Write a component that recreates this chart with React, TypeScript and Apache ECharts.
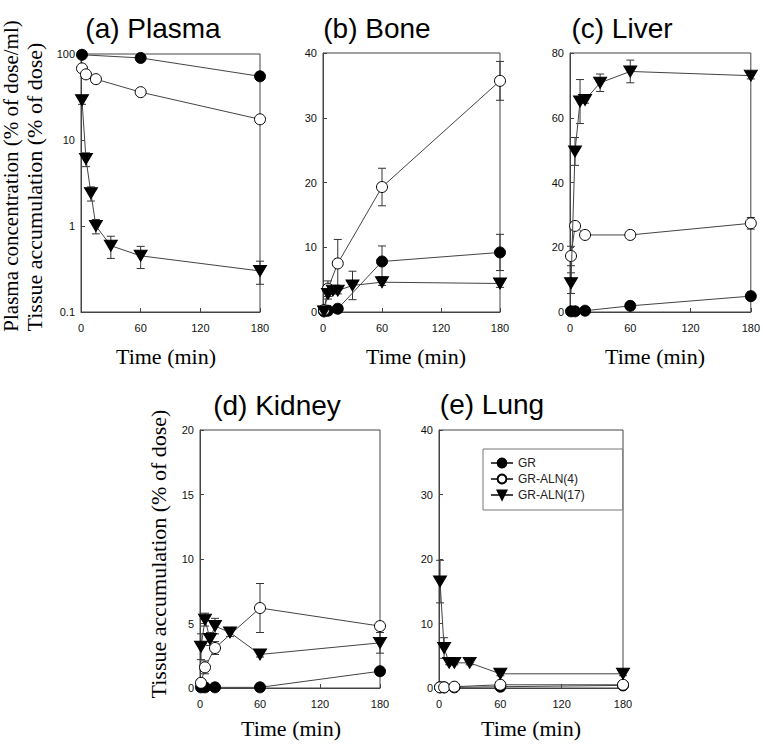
import React, { useEffect, useRef } from "react";
import * as echarts from "echarts";

// Sampling times (min)
const tGR = [1, 5, 15, 60, 180];
const tGRplasma = [1, 60, 180];
const tALN4 = [1, 5, 15, 60, 180];
const tALN17 = [1, 5, 10, 15, 30, 60, 180];

// (a) Plasma concentration (% of dose/ml)
const plasmaGR = [98, 90, 55];
const plasmaGRErr = [0, 0, 0];
const plasmaALN4 = [68, 58, 51, 36, 17.4];
const plasmaALN4Err = [0, 0, 0, 0, 0];
const plasmaALN17 = [29, 6.0, 2.4, 1.0, 0.59, 0.45, 0.3];
const plasmaALN17Err = [3, 1.1, 0.45, 0.19, 0.17, 0.13, 0.09];

// (b) Bone (% of dose)
const boneGR = [0.1, 0.2, 0.5, 7.8, 9.2];
const boneGRErr = [0.3, 0.3, 0.3, 2.4, 2.8];
const boneALN4 = [0.3, 3.6, 7.5, 19.3, 35.7];
const boneALN4Err = [0.5, 1.2, 3.7, 2.9, 3.0];
const boneALN17 = [0.1, 2.8, 3.3, 3.3, 4.1, 4.6, 4.4];
const boneALN17Err = [0.3, 0.8, 0.5, 0.5, 2.2, 0.5, 0.6];

// (c) Liver (% of dose)
const liverGR = [0.2, 0.2, 0.4, 1.9, 4.9];
const liverGRErr = [0, 0, 0, 0, 0];
const liverALN4 = [17.3, 26.6, 23.8, 23.8, 27.4];
const liverALN4Err = [3, 1, 1, 1, 1.8];
const liverALN17 = [8.9, 49.6, 65, 65.5, 70.8, 74.3, 73];
const liverALN17Err = [3.2, 4.3, 6.8, 1, 2.7, 3.5, 1];

// (d) Kidney (% of dose)
const kidneyGR = [0.05, 0.05, 0.05, 0.05, 1.3];
const kidneyGRErr = [0, 0, 0, 0, 0];
const kidneyALN4 = [0.4, 1.6, 3.1, 6.2, 4.8];
const kidneyALN4Err = [0.2, 0.5, 0.5, 1.9, 0.3];
const kidneyALN17 = [3.2, 5.3, 3.8, 4.8, 4.3, 2.6, 3.5];
const kidneyALN17Err = [1.0, 0.5, 0.5, 0.6, 0.3, 0.2, 0.8];

// (e) Lung (% of dose)
const lungGR = [0.1, 0.1, 0.1, 0.2, 0.4];
const lungGRErr = [0, 0, 0, 0, 0];
const lungALN4 = [0.1, 0.1, 0.2, 0.5, 0.5];
const lungALN4Err = [0, 0, 0, 0, 0];
const lungALN17 = [16.5, 6.2, 3.9, 3.9, 3.9, 2.2, 2.2];
const lungALN17Err = [3.3, 1.6, 0.3, 0.3, 0.3, 0.3, 0.3];

const seriesNames = ["GR", "GR-ALN(4)", "GR-ALN(17)"];
const panelTitles = ["(a) Plasma", "(b) Bone", "(c) Liver", "(d) Kidney", "(e) Lung"];
const xTicks = [0, 60, 120, 180];

const SANS = "'Liberation Sans', Arial, sans-serif";
const SERIF = "'Liberation Serif', 'Times New Roman', serif";

export default function App() {
  const ref = useRef<HTMLDivElement>(null);

  useEffect(() => {
    if (!ref.current) return;
    const chart = echarts.init(ref.current, null, { renderer: "svg" });

    const panels = [
      { grid: { left: 81, top: 54, width: 179, height: 258 }, log: true, min: 0.1, max: 100, interval: 0,
        data: [[tGRplasma, plasmaGR, plasmaGRErr], [tALN4, plasmaALN4, plasmaALN4Err], [tALN17, plasmaALN17, plasmaALN17Err]],
        title: [153, 28], xname: [166, 356] },
      { grid: { left: 323, top: 53, width: 177, height: 259 }, log: false, min: 0, max: 40, interval: 10,
        data: [[tGR, boneGR, boneGRErr], [tALN4, boneALN4, boneALN4Err], [tALN17, boneALN17, boneALN17Err]],
        title: [377, 28], xname: [416, 356] },
      { grid: { left: 570, top: 53, width: 183, height: 259 }, log: false, min: 0, max: 80, interval: 20,
        data: [[tGR, liverGR, liverGRErr], [tALN4, liverALN4, liverALN4Err], [tALN17, liverALN17, liverALN17Err]],
        title: [622, 28], xname: [655, 356] },
      { grid: { left: 200, top: 430, width: 180, height: 258 }, log: false, min: 0, max: 20, interval: 5,
        data: [[tGR, kidneyGR, kidneyGRErr], [tALN4, kidneyALN4, kidneyALN4Err], [tALN17, kidneyALN17, kidneyALN17Err]],
        title: [277, 405], xname: [291, 728] },
      { grid: { left: 439, top: 430, width: 184, height: 258 }, log: false, min: 0, max: 40, interval: 10,
        data: [[tGR, lungGR, lungGRErr], [tALN4, lungALN4, lungALN4Err], [tALN17, lungALN17, lungALN17Err]],
        title: [492, 404], xname: [531, 728] },
    ];

    const styles = [
      { symbol: "circle", symbolSize: 11, rotate: 0, color: "#000", border: "#000" },
      { symbol: "circle", symbolSize: 11, rotate: 0, color: "#fff", border: "#000" },
      { symbol: "triangle", symbolSize: [13, 11], rotate: 180, color: "#000", border: "#000" },
    ];

    const axisColor = "#444";
    const labelColor = "#111";
    const grids: any[] = [];
    const xAxes: any[] = [];
    const yAxes: any[] = [];
    const series: any[] = [];
    const graphics: any[] = [];

    panels.forEach((p, i) => {
      grids.push({ ...p.grid, show: true, borderColor: axisColor, borderWidth: 1, backgroundColor: "transparent" });
      xAxes.push({
        type: "value", gridIndex: i, min: 0, max: 180, interval: 60,
        axisLine: { show: true, lineStyle: { color: axisColor, width: 1 } },
        axisTick: { show: true, inside: true, length: 4, lineStyle: { color: axisColor } },
        axisLabel: { fontSize: 11, fontFamily: SANS, color: labelColor, margin: 10,
          formatter: (v: number) => (xTicks.includes(v) ? String(v) : "") },
        splitLine: { show: false },
      });
      if (p.log) {
        yAxes.push({
          type: "log", logBase: 10, gridIndex: i, min: p.min, max: p.max,
          axisLine: { show: true, lineStyle: { color: axisColor, width: 1 } },
          axisTick: { show: true, inside: true, length: 4, lineStyle: { color: axisColor } },
          minorTick: { show: false },
          axisLabel: { fontSize: 11, fontFamily: SANS, color: labelColor, margin: 6,
            formatter: (v: number) => (v < 1 ? String(Number(v.toFixed(1))) : String(Math.round(v))) },
          splitLine: { show: false },
        });
      } else {
        yAxes.push({
          type: "value", gridIndex: i, min: p.min, max: p.max, interval: p.interval,
          axisLine: { show: true, lineStyle: { color: axisColor, width: 1 } },
          axisTick: { show: true, inside: true, length: 4, lineStyle: { color: axisColor } },
          axisLabel: { fontSize: 11, fontFamily: SANS, color: labelColor, margin: 6 },
          splitLine: { show: false },
        });
      }

      p.data.forEach((d, k) => {
        const [ts, vs, es] = d as number[][];
        const st = styles[k];
        const yMin = p.min;
        series.push({
          type: "custom",
          name: seriesNames[k] + " error",
          xAxisIndex: i, yAxisIndex: i, z: 1,
          silent: true,
          data: ts.map((t, j) => [t, vs[j], es[j]]),
          encode: { x: 0, y: 1 },
          renderItem: (params: any, api: any) => {
            const x = api.value(0), y = api.value(1), e = api.value(2);
            if (!e) return null;
            const lowV = Math.max(y - e, yMin);
            const hi = api.coord([x, y + e]);
            const lo = api.coord([x, lowV]);
            const w = 4;
            const ls = { stroke: "#333", lineWidth: 1 };
            const children: any[] = [
              { type: "line", shape: { x1: hi[0], y1: hi[1], x2: lo[0], y2: lo[1] }, style: ls },
              { type: "line", shape: { x1: hi[0] - w, y1: hi[1], x2: hi[0] + w, y2: hi[1] }, style: ls },
            ];
            if (y - e > yMin) {
              children.push({ type: "line", shape: { x1: lo[0] - w, y1: lo[1], x2: lo[0] + w, y2: lo[1] }, style: ls });
            }
            return { type: "group", children };
          },
        });
        series.push({
          type: "line",
          name: seriesNames[k],
          xAxisIndex: i, yAxisIndex: i, z: 3 + k,
          data: ts.map((t, j) => [t, vs[j]]),
          symbol: st.symbol, symbolSize: st.symbolSize, symbolRotate: st.rotate,
          showAllSymbol: true,
          clip: false,
          lineStyle: { color: "#444", width: 1 },
          itemStyle: { color: st.color, borderColor: st.border, borderWidth: 1 },
          emphasis: { disabled: true },
        });
      });

      graphics.push({
        type: "text", x: p.title[0], y: p.title[1],
        style: { text: panelTitles[i], font: `28px ${SANS}`, fill: "#000", textAlign: "center", textVerticalAlign: "middle" },
      });
      graphics.push({
        type: "text", x: p.xname[0], y: p.xname[1],
        style: { text: "Time (min)", font: `22px ${SERIF}`, fill: "#000", textAlign: "center", textVerticalAlign: "middle" },
      });
    });

    graphics.push({
      type: "text", x: 11, y: 176, rotation: Math.PI / 2,
      style: { text: "Plasma concentration (% of dose/ml)", font: `21px ${SERIF}`, fill: "#000", textAlign: "center", textVerticalAlign: "middle" },
    });
    graphics.push({
      type: "text", x: 34, y: 187, rotation: Math.PI / 2,
      style: { text: "Tissue accumulation (% of dose)", font: `22px ${SERIF}`, fill: "#000", textAlign: "center", textVerticalAlign: "middle" },
    });
    graphics.push({
      type: "text", x: 158, y: 554, rotation: Math.PI / 2,
      style: { text: "Tissue accumulation (% of dose)", font: `22px ${SERIF}`, fill: "#000", textAlign: "center", textVerticalAlign: "middle" },
    });

    chart.setOption({
      animation: false,
      backgroundColor: "#fff",
      grid: grids,
      xAxis: xAxes,
      yAxis: yAxes,
      series,
      legend: {
        data: seriesNames,
        orient: "vertical",
        left: 483, top: 449,
        padding: [8, 38, 9, 7],
        itemGap: 4,
        itemWidth: 22,
        itemHeight: 11,
        backgroundColor: "#fff",
        borderColor: "#777",
        borderWidth: 1,
        selectedMode: false,
        textStyle: { fontSize: 12, fontFamily: SANS, color: "#222" },
      },
      graphic: graphics,
    });

    return () => chart.dispose();
  }, []);

  return <div ref={ref} style={{ position: "fixed", left: 0, top: 0, width: 763, height: 744 }} />;
}
